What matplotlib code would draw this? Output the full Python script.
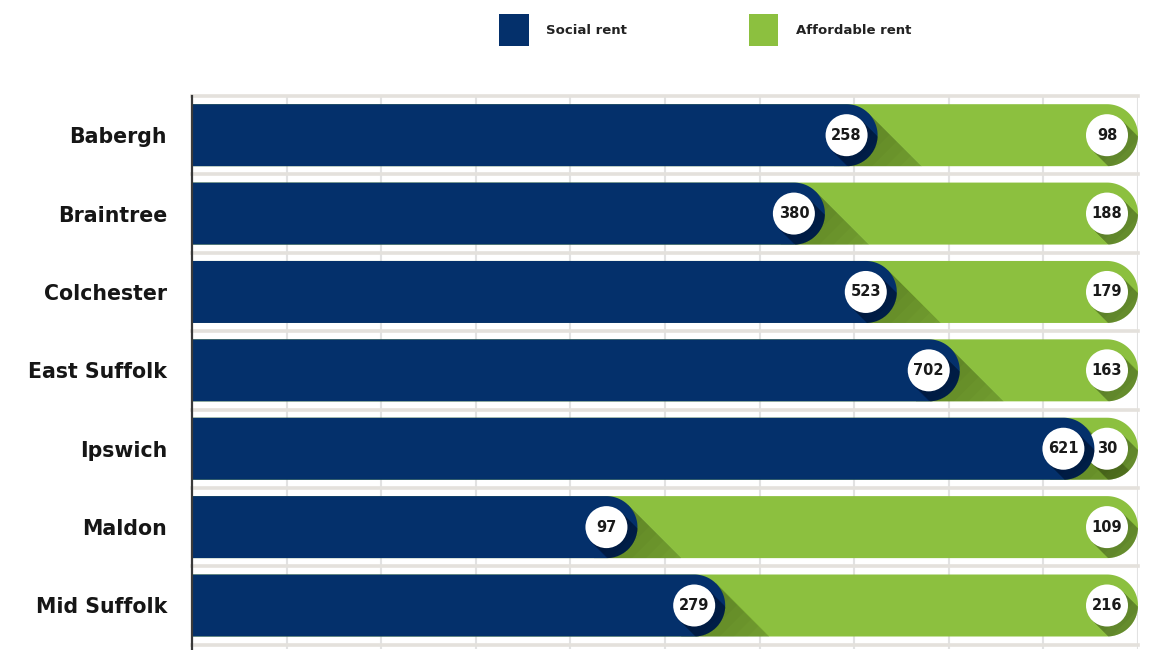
import numpy as np
import matplotlib.pyplot as plt
from matplotlib.patches import Polygon, Ellipse, Patch

# data
areas = ['Babergh', 'Braintree', 'Colchester', 'East Suffolk', 'Ipswich', 'Maldon', 'Mid Suffolk']
social = [258, 380, 523, 702, 621, 97, 279]
affordable = [98, 188, 179, 163, 30, 109, 216]

NAVY = '#04306b'
GREEN = '#8cc03f'

W, H = 1151, 650
fig = plt.figure(figsize=(W / 100, H / 100), dpi=100)
ax = fig.add_axes([192 / W, 1 - 649 / H, 946 / W, 553 / H])
ax.set_xlim(0, 100)
ybot = len(areas) - 0.5 + 0.055
ax.set_ylim(ybot, -0.5)

# size of one pixel in data units
px_x = 100 / 946
px_y = (ybot + 0.5) / 553

CAP_R = 31     # bar half height, px
DOT_R = 21     # label circle radius, px


def pill(x1, y, color, z):
    rx, ry = CAP_R * px_x, CAP_R * px_y
    cx = x1 - rx
    t = np.linspace(-np.pi / 2, np.pi / 2, 80)
    pts = [(0, y - ry)] + list(zip(cx + rx * np.cos(t), y + ry * np.sin(t))) + [(0, y + ry)]
    p = Polygon(pts, closed=True, fc=color, ec='none', zorder=z)
    ax.add_patch(p)
    return p


def shadow(cx, cy, r, clip, z, length=110, steps=12, alpha=0.03):
    # long shadow going down-right, soft by stacking
    s = 1 / np.sqrt(2)
    for k in range(1, steps + 1):
        L = length * k / steps
        off = [(r * s, -r * s), (r * s + L * s, -r * s + L * s),
               (-r * s + L * s, r * s + L * s), (-r * s, r * s)]
        pts = [(cx + dx * px_x, cy + dy * px_y) for dx, dy in off]
        sh = Polygon(pts, closed=True, fc='black', ec='none', alpha=alpha, zorder=z)
        ax.add_patch(sh)
        sh.set_clip_path(clip)


def dot(cx, cy, z):
    ax.add_patch(Ellipse((cx, cy), 2 * DOT_R * px_x, 2 * DOT_R * px_y,
                         fc='white', ec='none', zorder=z))


for i, (s_val, a_val) in enumerate(zip(social, affordable)):
    total = s_val + a_val
    s_end = 100 * s_val / total
    g = pill(100, i, GREEN, 2)
    # shadow of the blue cap on the green part
    shadow(s_end - CAP_R * px_x, i, CAP_R, g, 3, length=140, steps=14, alpha=0.022)
    gx = 100 - CAP_R * px_x
    shadow(gx, i, DOT_R, g, 3, length=100, steps=12, alpha=0.03)
    dot(gx, i, 4)
    b = pill(s_end, i, NAVY, 5)
    bx = s_end - CAP_R * px_x
    shadow(bx, i, DOT_R, b, 6, length=100, steps=12, alpha=0.04)
    dot(bx, i, 7)
    ax.text(bx, i, str(s_val), ha='center', va='center', fontsize=10.5,
            fontweight='bold', color='#1a1a1a', zorder=8)
    ax.text(gx, i, str(a_val), ha='center', va='center', fontsize=10.5,
            fontweight='bold', color='#1a1a1a', zorder=8)

# grid
for x in range(10, 101, 10):
    ax.axvline(x, color='#e2e2e2', lw=1.5, zorder=0)
for k in range(len(areas) + 1):
    ax.axhline(k - 0.5, color='#e4e1dc', lw=2.6, zorder=1, clip_on=False)

ax.set_yticks(range(len(areas)))
ax.set_yticklabels(areas, fontsize=14.8, fontweight='bold', color='#161616')
ax.tick_params(axis='y', length=0, pad=18)
ax.set_xticks([])
for side in ['top', 'right', 'bottom']:
    ax.spines[side].set_visible(False)
ax.spines['left'].set_color('#3a3a3a')
ax.spines['left'].set_linewidth(1.6)
ax.spines['left'].set_zorder(10)

handles = [Patch(fc=NAVY, ec='none', label='Social rent'),
           Patch(fc=GREEN, ec='none', label='Affordable rent')]
leg = fig.legend(handles=handles, loc='center left', bbox_to_anchor=(499 / W, 1 - 30 / H),
                 ncol=2, frameon=False, prop={'weight': 'bold', 'size': 9.5},
                 handlelength=2.25, handleheight=3.3, handletextpad=1.35,
                 columnspacing=9.2, borderaxespad=0, borderpad=0)
for t in leg.get_texts():
    t.set_color('#222222')

fig.savefig('out.png', dpi=100)
